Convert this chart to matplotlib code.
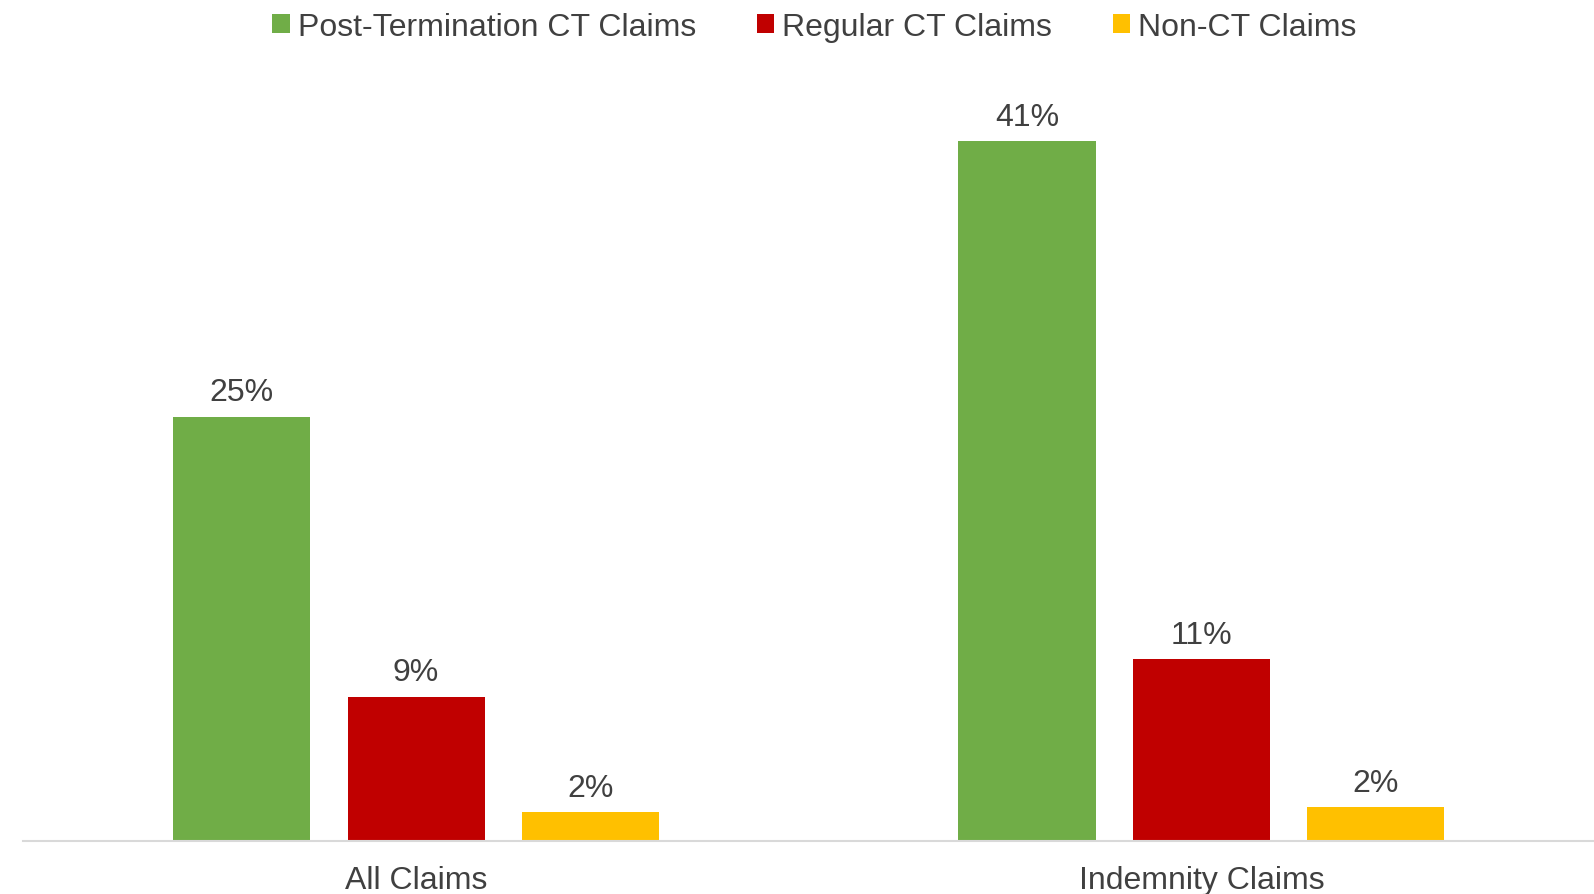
import matplotlib
matplotlib.use("Agg")
from matplotlib import pyplot as plt
import numpy as np

# Donnees du graphique
categories = ["All Claims", "Indemnity Claims"]
series_names = ["Post-Termination CT Claims", "Regular CT Claims", "Non-CT Claims"]
post_termination = [25.0, 41.2]
regular_ct = [8.5, 10.7]
non_ct = [1.7, 2.0]
post_termination_labels = ["25%", "41%"]
regular_ct_labels = ["9%", "11%"]
non_ct_labels = ["2%", "2%"]
series_values = [post_termination, regular_ct, non_ct]
series_labels = [post_termination_labels, regular_ct_labels, non_ct_labels]
series_colors = ["#70AD47", "#C00000", "#FFC000"]

plt.rcParams["font.family"] = ["Liberation Sans", "DejaVu Sans"]
text_color = "#404040"
fs = 23

fig = plt.figure(figsize=(15.94, 8.95), dpi=100)
ax = fig.add_axes([0.0147, 0.059, 0.9853, 0.8540])

x = np.arange(len(categories))
width = 0.1746
step = 0.222
for i, (name, vals, labs, col) in enumerate(zip(series_names, series_values, series_labels, series_colors)):
    pos = x + (i - 1) * step
    bars = ax.bar(pos, vals, width=width, color=col, label=name, zorder=2)
    for b, v, lab in zip(bars, vals, labs):
        ax.annotate(lab, (b.get_x() + b.get_width() / 2, v),
                    xytext=(0, 7), textcoords="offset points",
                    ha="center", va="bottom", fontsize=fs, color=text_color)

ax.set_xlim(-0.5, 1.5)
ax.set_ylim(0, 45)
ax.set_xticks(x)
ax.set_xticklabels(categories, fontsize=fs, color=text_color)
ax.tick_params(axis="x", length=0, pad=17)
ax.set_yticks([])
for s in ["top", "right", "left"]:
    ax.spines[s].set_visible(False)
ax.spines["bottom"].set_color("#d9d9d9")
ax.spines["bottom"].set_linewidth(1.5)
ax.spines["bottom"].set_zorder(3)

leg = fig.legend(loc="upper center", bbox_to_anchor=(0.511, 1.018), ncol=3,
                 frameon=False, fontsize=fs, handlelength=0.55, handleheight=0.55,
                 handletextpad=0.25, columnspacing=1.9)
for t in leg.get_texts():
    t.set_color(text_color)

fig.savefig("out.png", dpi=100)
